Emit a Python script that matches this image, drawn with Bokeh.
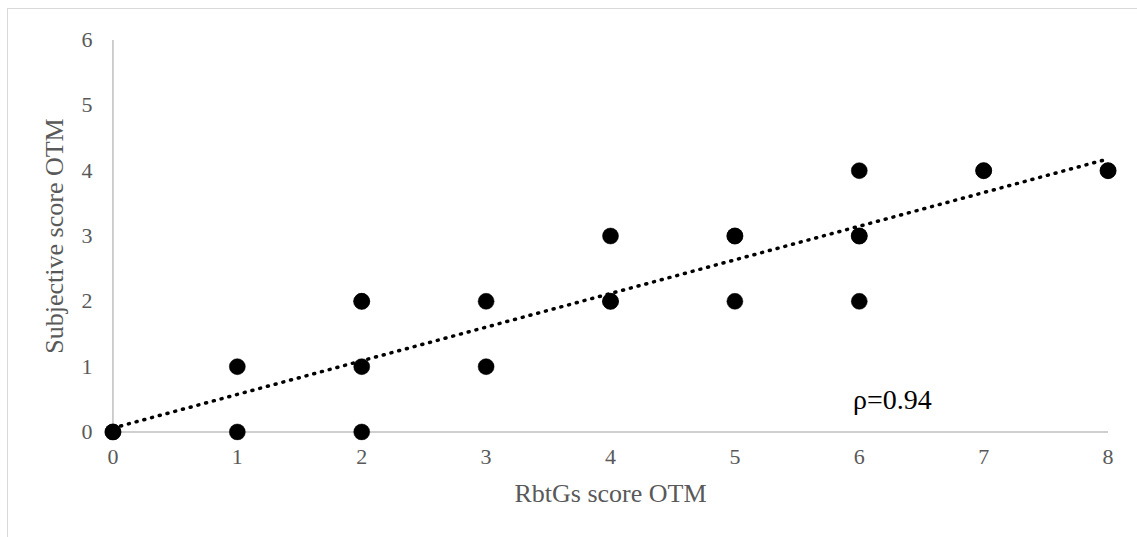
from bokeh.plotting import figure
from bokeh.models import FixedTicker, Range1d
from bokeh.core.properties import value
from bokeh.embed import file_html
from bokeh.resources import INLINE

# data (duplicates drawn twice, as in the reference)
x_vals = [0, 0, 1, 1, 2, 2, 2, 2, 3, 3, 4, 4, 4, 5, 5, 5, 6, 6, 6, 6, 7, 7, 8, 8]
y_vals = [0, 0, 0, 1, 0, 1, 2, 2, 1, 2, 2, 2, 3, 2, 3, 3, 2, 3, 3, 4, 4, 4, 4, 4]
x_ticks = [0, 1, 2, 3, 4, 5, 6, 7, 8]
y_ticks = [0, 1, 2, 3, 4, 5, 6]
trend_x = [0, 8]
trend_y = [0.06, 4.18]
rho_label = ["ρ=0.94"]
rho_x = [5.95]
rho_y = [0.5]
x_title = "RbtGs score OTM"
y_title = "Subjective score OTM"

FONT = "Liberation Serif"
GRAY = "#595959"
AXIS = "#bfbfbf"

p = figure(width=1130, height=529, output_backend="svg", toolbar_location=None,
           x_range=Range1d(-0.1, 8.1), y_range=Range1d(-0.13, 6.13),
           min_border_left=92, min_border_right=18, min_border_top=22,
           min_border_bottom=98)
p.styles = {"border-top": "1px solid #d9d9d9", "border-left": "1px solid #d9d9d9",
            "margin-left": "7px", "margin-top": "8px"}
p.outline_line_color = None
p.xgrid.visible = False
p.ygrid.visible = False
p.background_fill_color = "white"
p.border_fill_color = "white"

for ax in (p.xaxis[0], p.yaxis[0]):
    ax.axis_line_color = None
    ax.major_tick_line_color = None
    ax.minor_tick_line_color = None
    ax.major_tick_in = 0
    ax.major_tick_out = 0
    ax.major_label_text_font = FONT
    ax.major_label_text_font_size = "22px"
    ax.major_label_text_color = GRAY
    ax.axis_label_text_font = FONT
    ax.axis_label_text_font_size = "26px"
    ax.axis_label_text_font_style = "normal"
    ax.axis_label_text_color = GRAY

p.xaxis.ticker = FixedTicker(ticks=x_ticks)
p.yaxis.ticker = FixedTicker(ticks=y_ticks)
p.xaxis.major_label_standoff = 9
p.yaxis.major_label_standoff = 8
p.xaxis.axis_label = x_title
p.yaxis.axis_label = y_title
p.xaxis.axis_label_standoff = 12
p.yaxis.axis_label_standoff = 10

# axis lines at data zero
p.line([x_ticks[0], x_ticks[-1]], [y_ticks[0], y_ticks[0]], line_color=AXIS, line_width=1.5)
p.line([x_ticks[0], x_ticks[0]], [y_ticks[0], y_ticks[-1]], line_color=AXIS, line_width=1.5)

# points
p.scatter(x_vals, y_vals, size=16, fill_color="black", line_color="black", line_width=0.5)

# trend line
p.line(trend_x, trend_y, line_color="black", line_width=3.5, line_dash="1 7", line_cap="round")

# rho annotation
p.text(x=rho_x, y=rho_y, text=rho_label, text_font=value(FONT), text_font_size="28px",
       text_color="black", text_baseline="alphabetic", text_align="left")

open("out.html", "w").write(file_html(p, INLINE))
